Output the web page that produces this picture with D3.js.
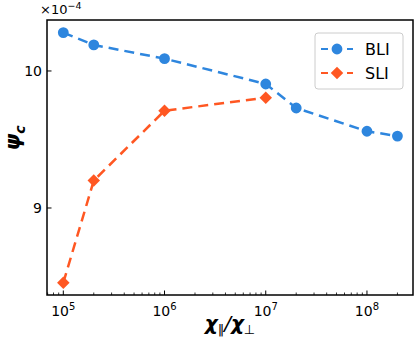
<!DOCTYPE html>
<html>
<head>
<meta charset="utf-8">
<script src="https://cdn.jsdelivr.net/npm/d3@7"></script>
<style>
  body { margin: 0; background: #fff; }
  svg { font-family: "DejaVu Sans", sans-serif; }
</style>
</head>
<body>
<svg id="chart" width="415" height="338"></svg>
<script>
// chi_par / chi_perp values and psi_c (x1e-4)
var bliX = [1e5, 2e5, 1e6, 1e7, 2e7, 1e8, 2e8];
var bliY = [10.28, 10.19, 10.09, 9.905, 9.73, 9.56, 9.525];
var sliX = [1e5, 2e5, 1e6, 1e7];
var sliY = [8.455, 9.2, 9.71, 9.805];
var xTicks = [1e5, 1e6, 1e7, 1e8];
var xTickExp = ["5", "6", "7", "8"];
var yTicks = [9, 10];

var svg = d3.select("#chart"),
    margin = {left: 47, top: 20, right: 2, bottom: 43},
    width = 415 - margin.left - margin.right,
    height = 338 - margin.top - margin.bottom,
    blue = "#2e86de",
    orange = "#ff5722";

var x = d3.scaleLog().domain([6.9e4, 2.85e8]).range([0, width]);
var y = d3.scaleLinear().domain([8.365, 10.372]).range([height, 0]);

var g = svg.append("g").attr("transform", "translate(" + margin.left + "," + margin.top + ")");

// minor ticks on x
var minor = [];
for (var e = 4; e <= 8; e++) {
    for (var m = 2; m <= 9; m++) {
        var v = m * Math.pow(10, e);
        if (v > x.domain()[0] && v < x.domain()[1]) minor.push(v);
    }
}
g.selectAll(".minor").data(minor).enter().append("line")
    .attr("x1", function (d) { return x(d); })
    .attr("x2", function (d) { return x(d); })
    .attr("y1", height).attr("y2", height - 2.5)
    .attr("stroke", "#000").attr("stroke-width", 0.8);

g.selectAll(".xmajor").data(xTicks).enter().append("line")
    .attr("x1", function (d) { return x(d); })
    .attr("x2", function (d) { return x(d); })
    .attr("y1", height).attr("y2", height - 4.5)
    .attr("stroke", "#000").attr("stroke-width", 1);

var xl = g.selectAll(".xlab").data(xTicks).enter().append("text")
    .attr("x", function (d) { return x(d); })
    .attr("y", height + 21)
    .attr("text-anchor", "middle")
    .style("font-size", "14px")
    .attr("fill", "#000");
xl.append("tspan").text("10");
xl.append("tspan").attr("dy", -6).style("font-size", "10px")
    .text(function (d, i) { return xTickExp[i]; });

g.selectAll(".ymajor").data(yTicks).enter().append("line")
    .attr("x1", 0).attr("x2", 4.5)
    .attr("y1", function (d) { return y(d); })
    .attr("y2", function (d) { return y(d); })
    .attr("stroke", "#000").attr("stroke-width", 1);

g.selectAll(".ylab").data(yTicks).enter().append("text")
    .attr("x", -5)
    .attr("y", function (d) { return y(d); })
    .attr("dy", "0.35em")
    .attr("text-anchor", "end")
    .style("font-size", "14px")
    .text(function (d) { return d; });

// offset label
var off = svg.append("text").attr("x", 40).attr("y", 14).style("font-size", "13px");
off.append("tspan").text("\u00d710");
off.append("tspan").attr("dy", -5).style("font-size", "9.5px").text("\u22124");

var line = d3.line()
    .x(function (d) { return x(d[0]); })
    .y(function (d) { return y(d[1]); });

function drawSeries(xs, ys, color, symbol, size) {
    var pts = xs.map(function (v, i) { return [v, ys[i]]; });
    g.append("path").datum(pts)
        .attr("d", line)
        .attr("fill", "none")
        .attr("stroke", color)
        .attr("stroke-width", 2.5)
        .attr("stroke-dasharray", "10,6");
    g.selectAll(null).data(pts).enter().append("path")
        .attr("d", d3.symbol().type(symbol).size(size))
        .attr("transform", function (d) {
            return "translate(" + x(d[0]) + "," + y(d[1]) + ")" + (symbol === d3.symbolSquare ? " rotate(45)" : "");
        })
        .attr("fill", color);
}

drawSeries(sliX, sliY, orange, d3.symbolSquare, 78);
drawSeries(bliX, bliY, blue, d3.symbolCircle, 92);

// frame
g.append("rect").attr("width", width).attr("height", height)
    .attr("fill", "none").attr("stroke", "#000").attr("stroke-width", 1.5);

// legend
var lg = svg.append("g").attr("transform", "translate(315,33)");
lg.append("rect").attr("width", 88).attr("height", 56).attr("rx", 3)
    .attr("fill", "#fff").attr("stroke", "#ccc").attr("stroke-width", 1);
var items = [{name: "BLI", color: blue, sym: d3.symbolCircle, size: 92},
             {name: "SLI", color: orange, sym: d3.symbolSquare, size: 78}];
items.forEach(function (it, i) {
    var cy = 16 + i * 24;
    lg.append("line").attr("x1", 6).attr("x2", 38).attr("y1", cy).attr("y2", cy)
        .attr("stroke", it.color).attr("stroke-width", 2).attr("stroke-dasharray", "7,6");
    lg.append("path").attr("d", d3.symbol().type(it.sym).size(it.size)())
        .attr("transform", "translate(22," + cy + ")" + (it.sym === d3.symbolSquare ? " rotate(45)" : ""))
        .attr("fill", it.color);
    lg.append("text").attr("x", 50).attr("y", cy).attr("dy", "0.36em")
        .style("font-size", "16px").text(it.name);
});

// axis titles
var xt = svg.append("text").attr("x", 230).attr("y", 330).attr("text-anchor", "middle")
    .style("font-size", "20px").style("font-weight", "bold").style("font-style", "italic");
xt.append("tspan").text("\u03c7");
xt.append("tspan").attr("dy", 4).style("font-size", "13px").style("font-style", "normal").style("font-weight", "normal").attr("fill", "#000").text("\u2016");
xt.append("tspan").attr("dy", -4).style("font-weight", "normal").text("/");
xt.append("tspan").text("\u03c7");
xt.append("tspan").attr("dy", 4).style("font-size", "13px").style("font-style", "normal").style("font-weight", "normal").text("\u22a5");

var yt = svg.append("text").attr("transform", "translate(20,138) rotate(-90)")
    .attr("text-anchor", "middle")
    .style("font-size", "21px").style("font-weight", "bold").style("font-style", "italic");
yt.append("tspan").text("\u03c8");
yt.append("tspan").attr("dy", 5).style("font-size", "14px").text("c");
</script>
</body>
</html>
